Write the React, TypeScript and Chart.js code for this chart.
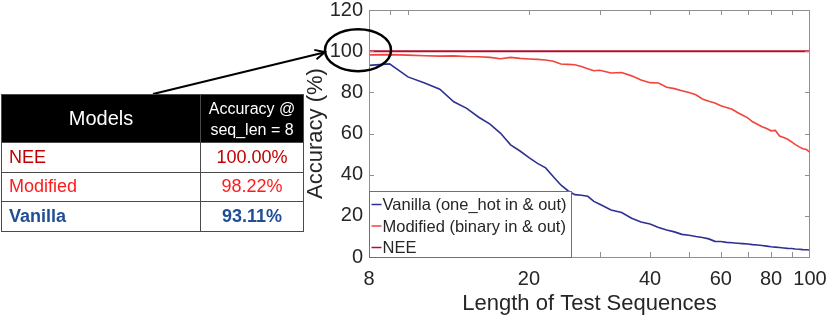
import { useEffect, useRef } from "react";
import { Chart, registerables } from "chart.js";

Chart.register(...registerables);

const lengths = [8, 9, 10, 11, 12, 13, 14, 15, 16, 17, 18, 19, 20, 21, 22, 23, 24, 25, 26, 27, 28, 29, 30, 32, 34, 36, 38, 40, 42, 44, 46, 48, 50, 52, 54, 56, 58, 60, 62, 64, 66, 68, 70, 72, 74, 76, 78, 80, 82, 84, 86, 88, 90, 92, 94, 96, 98, 100];
const vanilla = [93.1, 93.8, 87.5, 84.5, 81.5, 75.4, 72.2, 67.9, 64.6, 60.1, 54.5, 51.5, 48.3, 45.5, 43.3, 39.0, 35.0, 32.2, 30.3, 30.0, 29.5, 27.0, 25.6, 22.8, 21.6, 18.8, 17.0, 16.0, 14.3, 13.1, 12.2, 11.0, 10.6, 10.0, 9.5, 8.8, 7.6, 7.5, 7.1, 6.9, 6.7, 6.5, 6.3, 6.0, 5.8, 5.6, 5.3, 5.0, 4.8, 4.6, 4.4, 4.2, 4.1, 3.9, 3.8, 3.6, 3.5, 3.4];
const modified = [98.2, 98.3, 98.1, 97.8, 97.6, 97.7, 97.4, 97.3, 97.0, 96.3, 97.0, 96.5, 96.2, 96.0, 95.7, 95.1, 93.8, 93.6, 93.4, 92.6, 91.5, 90.5, 90.7, 89.4, 89.6, 88.0, 86.0, 84.7, 84.5, 82.5, 81.8, 80.8, 79.9, 78.8, 76.8, 75.7, 74.8, 73.5, 72.6, 71.8, 70.2, 68.9, 67.6, 65.7, 64.5, 63.3, 62.4, 61.3, 61.5, 58.8, 58.0, 57.2, 55.9, 54.6, 53.5, 52.6, 52.2, 50.8];
const neeLengths = [8, 100];
const nee = [100, 100];

const seriesLabels = ["Vanilla (one_hot in & out)", "Modified (binary in & out)", "NEE"];
const xTickLabels = [8, 20, 40, 60, 80, 100];
const xMinorMarks = [9, 10, 20, 30, 40, 50, 60, 70, 80, 90];
const yTickValues = [20, 40, 60, 80, 100];

const tableModels = ["NEE", "Modified", "Vanilla"];
const tableAcc = ["100.00%", "98.22%", "93.11%"];

const BLUE = "#2e3192";
const RED = "#f2433d";
const NEE_C = "#b0102e";
const FONT = "'Liberation Sans', Arial, sans-serif";
const TXT = "#262626";

const tableColors = ["#c00000", "#ff1a1a", "#1f4e96"];

const decor = {
  id: "decor",
  afterDatasetsDraw(chart: any) {
    const { ctx, chartArea: a, scales } = chart;
    const xs = scales.x;
    const ys = scales.y;
    ctx.save();
    // frame
    ctx.strokeStyle = "#8f8f8f";
    ctx.lineWidth = 1;
    ctx.strokeRect(a.left + 0.5, a.top + 0.5, a.right - a.left - 1, a.bottom - a.top);
    // inward ticks
    const tl = 5;
    ctx.beginPath();
    for (const v of xMinorMarks) {
      const px = Math.round(xs.getPixelForValue(v)) + 0.5;
      ctx.moveTo(px, a.bottom);
      ctx.lineTo(px, a.bottom - tl);
      ctx.moveTo(px, a.top);
      ctx.lineTo(px, a.top + tl);
    }
    for (const v of yTickValues) {
      const py = Math.round(ys.getPixelForValue(v)) + 0.5;
      ctx.moveTo(a.left, py);
      ctx.lineTo(a.left + tl, py);
      ctx.moveTo(a.right, py);
      ctx.lineTo(a.right - tl, py);
    }
    ctx.stroke();

    // legend
    const lw = 202;
    const lh = 66;
    const lx = a.left + 0.5;
    const ly = a.bottom - lh + 0.5;
    ctx.fillStyle = "#ffffff";
    ctx.fillRect(lx, ly, lw, lh);
    ctx.strokeStyle = "#6f6f6f";
    ctx.strokeRect(lx, ly, lw, lh);
    ctx.font = `16.5px ${FONT}`;
    ctx.textBaseline = "middle";
    ctx.textAlign = "left";
    chart.data.datasets.forEach((ds: any, i: number) => {
      const cy = ly + 13 + i * 21.5;
      ctx.strokeStyle = ds.borderColor;
      ctx.lineWidth = 1.5;
      ctx.beginPath();
      ctx.moveTo(lx + 2, cy);
      ctx.lineTo(lx + 12, cy);
      ctx.stroke();
      ctx.fillStyle = TXT;
      ctx.fillText(ds.label, lx + 13, cy + 1);
    });
    ctx.restore();
  },
  afterDraw(chart: any) {
    const { ctx, chartArea: a, scales } = chart;
    const ys = scales.y;
    const cx = a.left - 11;
    const cy = ys.getPixelForValue(100) - 1;
    const rx = 33;
    const ry = 21;
    ctx.save();
    ctx.strokeStyle = "#000";
    ctx.lineWidth = 2.5;
    ctx.beginPath();
    ctx.ellipse(cx, cy, rx, ry, 0, 0, Math.PI * 2);
    ctx.stroke();
    // arrow
    const tx = cx - rx;
    const ty = cy + 2;
    const sx = 153;
    const sy = 94;
    ctx.lineWidth = 2;
    ctx.beginPath();
    ctx.moveTo(sx, sy);
    ctx.lineTo(tx, ty);
    const ang = Math.atan2(ty - sy, tx - sx);
    const hl = 11;
    ctx.moveTo(tx - hl * Math.cos(ang - 0.45), ty - hl * Math.sin(ang - 0.45));
    ctx.lineTo(tx, ty);
    ctx.lineTo(tx - hl * Math.cos(ang + 0.45), ty - hl * Math.sin(ang + 0.45));
    ctx.stroke();
    ctx.restore();
  },
};

export default function App() {
  const ref = useRef<HTMLCanvasElement | null>(null);

  useEffect(() => {
    if (!ref.current) return;
    const chart = new Chart(ref.current, {
      type: "line",
      data: {
        datasets: [
          {
            label: seriesLabels[0],
            data: lengths.map((x, i) => ({ x, y: vanilla[i] })),
            borderColor: BLUE,
            borderWidth: 1.6,
            pointRadius: 0,
            tension: 0,
          },
          {
            label: seriesLabels[1],
            data: lengths.map((x, i) => ({ x, y: modified[i] })),
            borderColor: RED,
            borderWidth: 1.6,
            pointRadius: 0,
            tension: 0,
          },
          {
            label: seriesLabels[2],
            data: neeLengths.map((x, i) => ({ x, y: nee[i] })),
            borderColor: NEE_C,
            borderWidth: 2,
            pointRadius: 0,
          },
        ],
      },
      options: {
        animation: false,
        responsive: false,
        layout: { padding: { left: 300, right: 20, top: 10, bottom: 0 } },
        plugins: { legend: { display: false }, tooltip: { enabled: false } },
        scales: {
          x: {
            type: "logarithmic",
            min: 8,
            max: 100,
            afterBuildTicks: (s: any) => {
              s.ticks = xTickLabels.map((v) => ({ value: v }));
            },
            afterFit: (s: any) => {
              s.height = 60;
              s.paddingLeft = 0;
              s.paddingRight = 0;
            },
            grid: { display: false, drawTicks: false },
            border: { display: false },
            ticks: {
              autoSkip: false,
              maxRotation: 0,
              padding: 10,
              color: TXT,
              font: { family: FONT, size: 20 },
              callback: (v: any) => String(v),
            },
            title: {
              display: true,
              text: "Length of Test Sequences",
              color: TXT,
              font: { family: FONT, size: 22 },
              padding: { top: 0, bottom: 0 },
            },
          },
          y: {
            min: 0,
            max: 120,
            afterFit: (s: any) => {
              s.width = 69;
              s.paddingTop = 0;
              s.paddingBottom = 0;
            },
            grid: { display: false, drawTicks: false },
            border: { display: false },
            ticks: {
              stepSize: 20,
              padding: 6,
              color: TXT,
              font: { family: FONT, size: 20 },
            },
            title: {
              display: true,
              text: "Accuracy (%)",
              color: TXT,
              font: { family: FONT, size: 22 },
              padding: { top: 3, bottom: 0 },
            },
          },
        },
      },
      plugins: [decor],
    });
    return () => chart.destroy();
  }, []);

  const cellBase: any = {
    border: "1px solid #4a4a4a",
    padding: 0,
    fontFamily: FONT,
  };

  return (
    <div style={{ position: "fixed", left: 0, top: 0, width: 830, height: 317, background: "#fff" }}>
      <canvas ref={ref} width={830} height={317} style={{ display: "block" }} />
      <table
        style={{
          position: "absolute",
          left: 1,
          top: 94,
          width: 302,
          borderCollapse: "collapse",
          tableLayout: "fixed",
          fontFamily: FONT,
        }}
      >
        <colgroup>
          <col style={{ width: 199 }} />
          <col style={{ width: 103 }} />
        </colgroup>
        <thead>
          <tr style={{ height: 48, background: "#000", color: "#fff" }}>
            <th style={{ ...cellBase, fontSize: 20, fontWeight: "normal", textAlign: "center" }}>Models</th>
            <th style={{ ...cellBase, fontSize: 16, fontWeight: "normal", textAlign: "center", lineHeight: "21px" }}>
              Accuracy @<br />seq_len = 8
            </th>
          </tr>
        </thead>
        <tbody>
          {tableModels.map((m, i) => (
            <tr key={m} style={{ height: 29.5 }}>
              <td
                style={{
                  ...cellBase,
                  fontSize: 18,
                  color: tableColors[i],
                  fontWeight: i === 2 ? "bold" : "normal",
                  paddingLeft: 7,
                }}
              >
                {m}
              </td>
              <td
                style={{
                  ...cellBase,
                  fontSize: 18,
                  color: tableColors[i],
                  fontWeight: i === 2 ? "bold" : "normal",
                  textAlign: "center",
                }}
              >
                {tableAcc[i]}
              </td>
            </tr>
          ))}
        </tbody>
      </table>
    </div>
  );
}
